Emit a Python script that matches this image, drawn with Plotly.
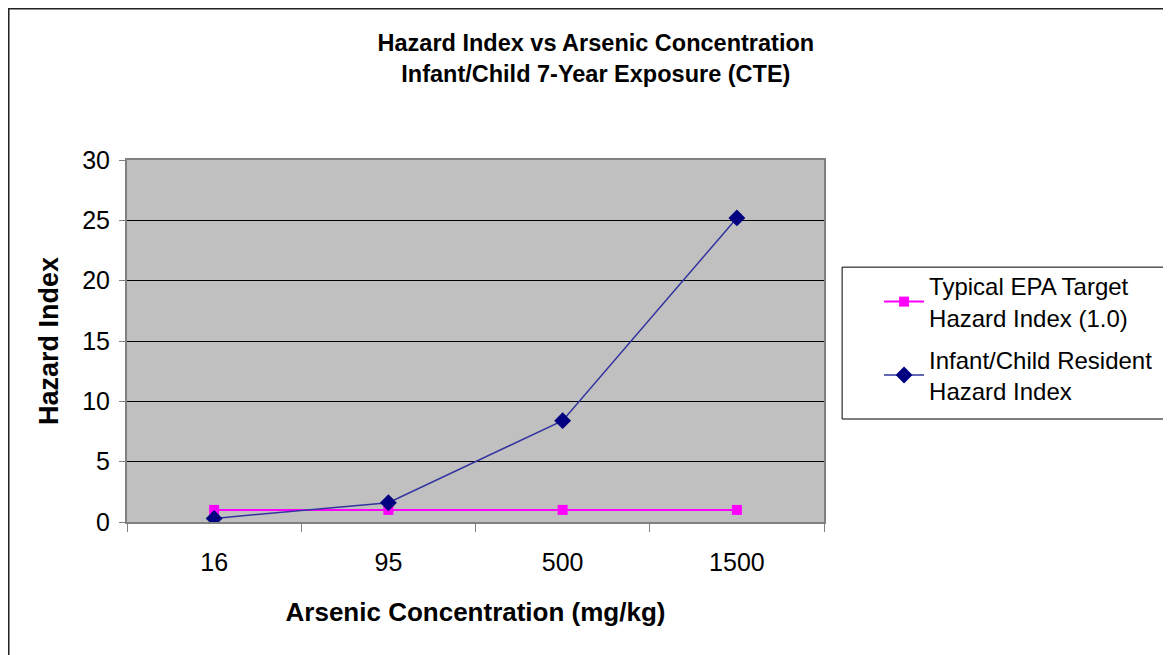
import plotly.graph_objects as go

# data
concentrations = ['16', '95', '500', '1500']
epa_target = [1.0, 1.0, 1.0, 1.0]
child_hazard = [0.3, 1.6, 8.4, 25.2]

font_family = 'Liberation Sans, Arial, sans-serif'

fig = go.Figure()

fig.add_trace(go.Scatter(
    x=concentrations, y=epa_target,
    name='Typical EPA Target<br>Hazard Index (1.0)',
    legendgroup='epa',
    mode='lines+markers',
    line=dict(color='#FF00FF', width=2),
    marker=dict(symbol='square', size=10, color='#FF00FF')))

fig.add_trace(go.Scatter(
    x=concentrations, y=child_hazard,
    name='Infant/Child Resident<br>Hazard Index',
    legendgroup='child',
    mode='lines+markers',
    line=dict(color='#3333A0', width=1.5),
    marker=dict(symbol='diamond', size=13, color='#000080')))

# legend frame and outer chart border (run past the page edge as in the reference)
fig.add_shape(type='rect', xref='paper', yref='paper',
              x0=1.026, x1=1.55, y0=0.2845, y1=0.704,
              line=dict(color='black', width=1), fillcolor='rgba(0,0,0,0)')
fig.add_shape(type='rect', xref='paper', yref='paper',
              x0=-0.1707, x1=1.55, y0=-0.45, y1=1.42,
              line=dict(color='#222222', width=3), fillcolor='rgba(0,0,0,0)')

fig.update_xaxes(
    type='category', range=[-0.5, 3.5],
    showline=True, linecolor='#808080', linewidth=2, mirror=True,
    ticks='outside', tickson='boundaries', ticklen=8, tickcolor='#808080',
    tickfont=dict(size=25, color='black'), ticklabelstandoff=17,
    showgrid=False,
    title=dict(text='<b>Arsenic Concentration (mg/kg)</b>',
               font=dict(size=26, color='black'), standoff=28))

fig.update_yaxes(
    range=[0, 30], dtick=5,
    showline=True, linecolor='#808080', linewidth=2, mirror=True,
    ticks='outside', ticklen=6, tickcolor='#808080',
    tickfont=dict(size=25, color='black'), ticklabelstandoff=4,
    showgrid=True, gridcolor='black', gridwidth=1,
    zeroline=False,
    title=dict(text='<b>Hazard Index</b>',
               font=dict(size=27, color='black'), standoff=16))

fig.update_layout(
    width=1171, height=655,
    margin=dict(l=119, r=355, t=152, b=141),
    paper_bgcolor='white', plot_bgcolor='#C0C0C0',
    font=dict(family=font_family, color='black'),
    title=dict(text='<b>Hazard Index vs Arsenic Concentration<br>Infant/Child 7-Year Exposure (CTE)</b>',
               x=0.502, xanchor='center', y=0.934, yanchor='top',
               font=dict(size=23.5, color='black')),
    showlegend=True,
    legend=dict(x=1.079, xanchor='left', y=0.713, yanchor='top',
                bgcolor='rgba(0,0,0,0)', borderwidth=0,
                font=dict(size=24, color='black'),
                traceorder='grouped', tracegroupgap=8, itemwidth=40),
    hovermode=False,
)

fig.write_html('out.html')
